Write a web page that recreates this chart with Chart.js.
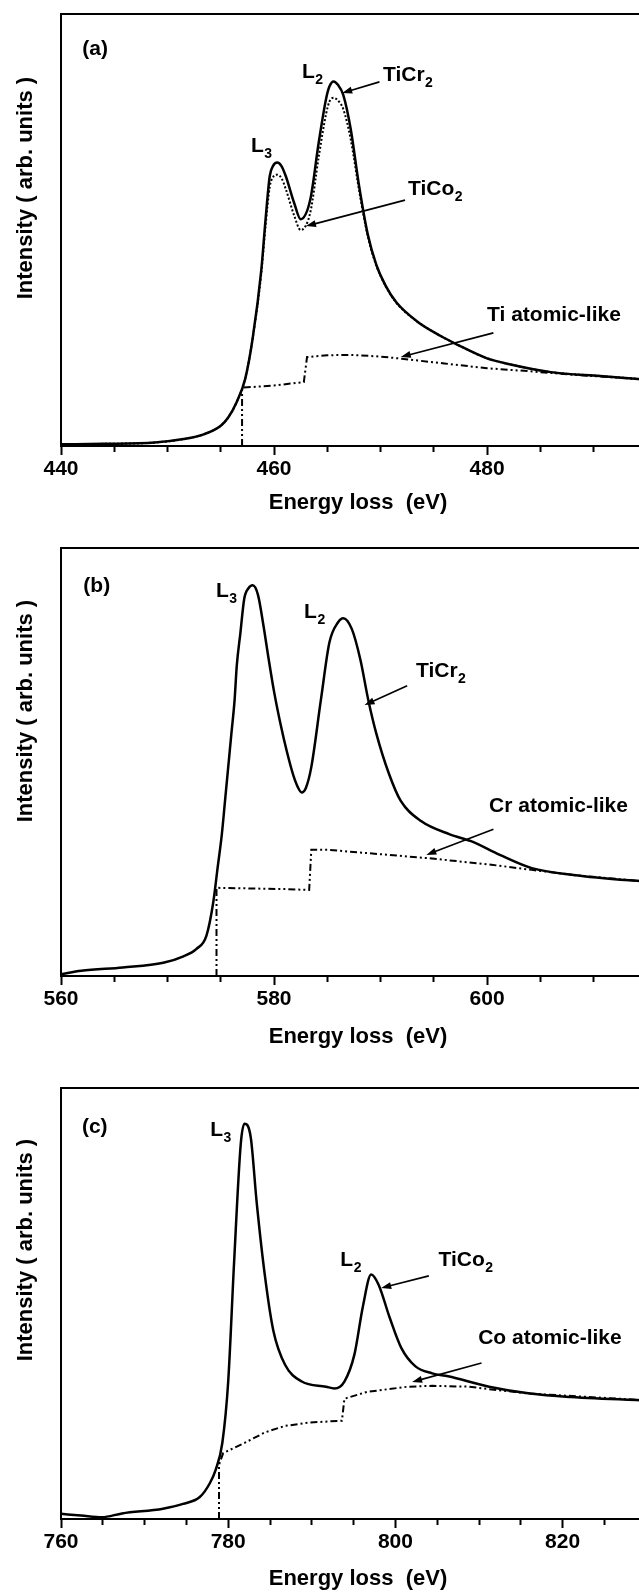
<!DOCTYPE html>
<html><head><meta charset="utf-8">
<script src="https://cdn.jsdelivr.net/npm/chart.js@4.4.1/dist/chart.umd.min.js"></script>
<style>
html,body{margin:0;padding:0;background:#fff;width:639px;height:1592px;overflow:hidden;position:relative;}
canvas{position:absolute;left:0;}
</style></head><body>
<canvas id="ca" width="655" height="530" style="top:0px"></canvas>
<canvas id="cb" width="655" height="530" style="top:530px"></canvas>
<canvas id="cc" width="655" height="532" style="top:1060px"></canvas>
<script>
// ---------- Panel (a): Ti L2,3 edge ----------
const aEnergy = [440, 444, 448.8, 451.5, 453.4, 455.0, 455.7, 456.5, 457.3, 458.0, 458.8, 459.2, 459.6, 459.9, 460.3, 460.7, 461.1, 461.9, 462.5, 463.4, 464.2, 464.9, 465.2, 465.6, 466.0, 466.5, 467.2, 468.0, 468.8, 469.6, 470.5, 471.5, 473.4, 475.7, 477.1, 480, 482, 486, 490.6, 496];
const aTiCr2 = [0.4, 0.5, 0.8, 1.6, 2.7, 4.7, 6.6, 10.2, 15.6, 25.0, 40.6, 52.3, 62.5, 64.8, 65.6, 64.8, 62.5, 56.2, 52.5, 57.0, 70.3, 80.5, 83.2, 84.4, 83.6, 81.3, 73.4, 60.0, 49.0, 42.0, 37.0, 33.2, 28.9, 25.4, 23.6, 20.3, 19.0, 17.1, 16.2, 15.2];
const aTiCo2 = [0.4, 0.5, 0.8, 1.6, 2.7, 4.7, 6.6, 10.2, 15.6, 25.0, 39.8, 50.8, 60.0, 62.2, 62.8, 62.0, 59.5, 53.3, 50.0, 54.0, 67.0, 77.0, 79.7, 80.6, 80.0, 78.0, 71.0, 59.0, 48.6, 41.8, 36.9, 33.1, 28.9, 25.4, 23.6, 20.3, 19.0, 17.1, 16.2, 15.2];
const aAtomE = [457.0, 457.0, 460.0, 462.8, 463.1, 465.0, 467.2, 470.0, 472.0, 476.0, 480.0, 484.0, 488.0, 496];
const aAtomI = [0, 13.5, 14.0, 14.8, 20.6, 21.0, 21.1, 20.7, 20.2, 19.1, 18.0, 17.3, 16.5, 15.2];

// ---------- Panel (b): Cr L2,3 edge ----------
const bEnergy = [560, 561.9, 565.8, 569.6, 571.5, 572.7, 573.65, 574.3, 574.7, 575.1, 575.4, 575.7, 576.0, 576.3, 576.5, 576.85, 577.2, 577.6, 578.0, 578.5, 579.0, 579.5, 580.0, 580.6, 581.2, 581.8, 582.3, 582.6, 583.0, 583.5, 584.4, 585.2, 586.0, 586.5, 587.3, 588.1, 588.85, 589.6, 590.8, 591.9, 593.8, 596.5, 598.5, 601.2, 604.2, 608.1, 616];
const bTiCr2 = [0.4, 1.2, 2.0, 3.1, 4.6, 6.3, 9.4, 17.3, 25.2, 33.1, 40.9, 48.8, 56.7, 64.5, 72.4, 80.3, 88.1, 90.6, 91.3, 89.0, 82.0, 74.0, 66.5, 59.0, 52.5, 47.0, 43.8, 42.9, 44.0, 48.8, 64.5, 77.9, 82.6, 83.6, 81.1, 74.0, 64.5, 56.7, 47.2, 40.9, 36.2, 33.1, 31.5, 28.3, 25.2, 23.6, 21.8];
const bAtomE = [574.6, 574.6, 581.2, 583.3, 583.5, 585.0, 588.8, 594.6, 600.4, 604.2, 608.1, 616];
const bAtomI = [0, 20.6, 20.3, 20.1, 29.5, 29.5, 28.7, 27.5, 26.0, 24.8, 23.6, 21.8];

// ---------- Panel (c): Co L2,3 edge ----------
const cEnergy = [760.0, 762.4, 764.9, 767.3, 772.2, 774.6, 776.6, 777.8, 778.5, 779.3, 780.0, 780.7, 781.5, 781.95, 782.7, 783.4, 784.4, 785.4, 786.8, 788.8, 791.7, 792.7, 793.9, 795.1, 796.1, 797.1, 798.0, 799.3, 800.7, 802.4, 804.4, 806.3, 811.2, 816.1, 821.0, 831.2];
const cTiCo2 = [1.2, 0.8, 0.4, 1.3, 2.4, 3.5, 5.1, 8.3, 11.4, 17.7, 31.9, 59.4, 87.0, 91.7, 88.5, 73.6, 56.3, 43.7, 35.8, 31.9, 30.7, 30.3, 31.9, 38.2, 49.2, 56.7, 54.3, 46.8, 39.7, 35.4, 33.8, 33.1, 30.7, 29.1, 28.3, 27.4];
const cAtomE = [778.9, 778.9, 779.4, 782.0, 784.4, 786.8, 789.8, 793.6, 793.9, 796.6, 801.5, 804.4, 808.8, 812.2, 816.1, 831.2];
const cAtomI = [0, 12.6, 15.3, 17.7, 20.1, 21.6, 22.4, 22.8, 27.9, 29.5, 30.7, 30.9, 30.7, 29.9, 29.1, 27.4];

// axis ranges and tick labels
const aRange = [440, 495.77];
const bRange = [560, 615.77];
const cRange = [760, 831.05];
const majorStep = 20;
const minorStep = 5;
const xTitle = 'Energy loss  (eV)';
const yTitle = 'Intensity ( arb. units )';

const FONT = '"Liberation Sans", Arial, Helvetica, sans-serif';
function pts(xs, ys) { return xs.map((x, i) => ({x: x, y: ys[i]})); }

function makeAnnot(cfg) {
  return {
    id: 'annot',
    afterDatasetsDraw(chart) {
      const ctx = chart.ctx, ca = chart.chartArea, sx = chart.scales.x, sy = chart.scales.y;
      ctx.save();
      ctx.fillStyle = '#000'; ctx.strokeStyle = '#000';
      // y-axis title
      ctx.save();
      ctx.translate(ca.left - 35, sy.getPixelForValue(cfg.yTitleAt));
      ctx.rotate(-Math.PI / 2);
      ctx.font = 'bold 22px ' + FONT;
      ctx.textAlign = 'center'; ctx.textBaseline = 'middle';
      ctx.fillText(yTitle, 0, 0);
      ctx.restore();
      // labels
      ctx.textAlign = 'left'; ctx.textBaseline = 'alphabetic';
      cfg.texts.forEach(t => {
        const px = sx.getPixelForValue(t.x), py = sy.getPixelForValue(t.y);
        ctx.font = 'bold 21px ' + FONT;
        ctx.fillText(t.t, px, py);
        if (t.s) {
          const w = ctx.measureText(t.t).width;
          ctx.font = 'bold 14px ' + FONT;
          ctx.fillText(t.s, px + w + 0.5, py + 6);
        }
      });
      // arrows
      cfg.arrows.forEach(a => {
        const x1 = sx.getPixelForValue(a.x1), y1 = sy.getPixelForValue(a.y1);
        const x2 = sx.getPixelForValue(a.x2), y2 = sy.getPixelForValue(a.y2);
        const ang = Math.atan2(y2 - y1, x2 - x1);
        const L = 10, W = 3.5;
        ctx.lineWidth = 1.7;
        ctx.beginPath();
        ctx.moveTo(x1, y1);
        ctx.lineTo(x2 - Math.cos(ang) * (L - 2), y2 - Math.sin(ang) * (L - 2));
        ctx.stroke();
        ctx.beginPath();
        ctx.moveTo(x2, y2);
        ctx.lineTo(x2 - L * Math.cos(ang) + W * Math.sin(ang), y2 - L * Math.sin(ang) - W * Math.cos(ang));
        ctx.lineTo(x2 - L * Math.cos(ang) - W * Math.sin(ang), y2 - L * Math.sin(ang) + W * Math.cos(ang));
        ctx.closePath();
        ctx.fill();
      });
      ctx.restore();
    }
  };
}

function makeChart(id, range, datasets, p, annot) {
  return new Chart(document.getElementById(id), {
    type: 'line',
    data: { datasets: datasets },
    options: {
      responsive: false, animation: false, devicePixelRatio: 1,
      layout: { padding: { left: 0, right: 0, top: p.top, bottom: 0 } },
      plugins: { legend: { display: false }, tooltip: { enabled: false } },
      elements: { point: { radius: 0 } },
      scales: {
        x: {
          type: 'linear', position: 'bottom', min: range[0], max: range[1],
          ticks: {
            stepSize: minorStep, maxTicksLimit: 20, includeBounds: false, autoSkip: false, maxRotation: 0,
            padding: 2, color: '#000', font: { family: FONT, size: 21, weight: 'bold' },
            callback: v => (Math.abs(v % majorStep) < 1e-6 ? String(v) : '')
          },
          grid: {
            drawOnChartArea: false, drawTicks: true, tickLength: 9, tickWidth: 2, tickColor: '#000',
            tickBorderDash: c => (c.tick && Math.abs(c.tick.value % majorStep) < 1e-6) ? [] : [5, 30]
          },
          border: { display: true, color: '#000', width: 2 },
          title: { display: true, text: xTitle, color: '#000', font: { family: FONT, size: 22, weight: 'bold' }, padding: { top: 0, bottom: p.tb } },
          afterFit: s => { s.height = p.xh; }
        },
        xt: {
          type: 'linear', position: 'top', min: range[0], max: range[1],
          ticks: { display: false }, grid: { display: false, drawTicks: false },
          border: { display: true, color: '#000', width: 2 },
          afterFit: s => { s.height = 0; }
        },
        y: {
          type: 'linear', min: 0, max: 100,
          ticks: { display: false }, grid: { display: false, drawTicks: false },
          border: { display: true, color: '#000', width: 2 },
          afterFit: s => { s.width = 61; }
        }
      }
    },
    plugins: [makeAnnot(annot)]
  });
}

const dashDotDot = [7, 3, 2, 3, 2, 3];

makeChart('ca', aRange, [
  { label: 'Ti atomic-like', data: pts(aAtomE, aAtomI), borderColor: '#000', borderWidth: 2, borderDash: dashDotDot, tension: 0 },
  { label: 'TiCo2', data: pts(aEnergy, aTiCo2), borderColor: '#000', borderWidth: 2, borderDash: [2, 2], cubicInterpolationMode: 'monotone' },
  { label: 'TiCr2', data: pts(aEnergy, aTiCr2), borderColor: '#000', borderWidth: 2.5, cubicInterpolationMode: 'monotone' }
], { top: 14, xh: 84, tb: 13.8 }, {
  yTitleAt: 59.7,
  texts: [
    { t: '(a)', x: 442.0, y: 90.4 },
    { t: 'L', s: '3', x: 457.84, y: 68.1 },
    { t: 'L', s: '2', x: 462.63, y: 85.2 },
    { t: 'TiCr', s: '2', x: 470.23, y: 84.5 },
    { t: 'TiCo', s: '2', x: 472.58, y: 58.1 },
    { t: 'Ti atomic-like', x: 480.0, y: 28.9 }
  ],
  arrows: [
    { x1: 469.9, y1: 84.3, x2: 466.4, y2: 81.7 },
    { x1: 472.3, y1: 56.9, x2: 463.0, y2: 50.9 },
    { x1: 480.6, y1: 26.2, x2: 471.9, y2: 20.6 }
  ]
});

makeChart('cb', bRange, [
  { label: 'Cr atomic-like', data: pts(bAtomE, bAtomI), borderColor: '#000', borderWidth: 2, borderDash: dashDotDot, tension: 0 },
  { label: 'TiCr2', data: pts(bEnergy, bTiCr2), borderColor: '#000', borderWidth: 2.5, cubicInterpolationMode: 'monotone' }
], { top: 18, xh: 84, tb: 9.8 }, {
  yTitleAt: 61.9,
  texts: [
    { t: '(b)', x: 562.1, y: 89.7 },
    { t: 'L', s: '3', x: 574.55, y: 88.6 },
    { t: 'L', s: '2', x: 582.82, y: 83.6 },
    { t: 'TiCr', s: '2', x: 593.33, y: 69.9 },
    { t: 'Cr atomic-like', x: 600.19, y: 38.3 }
  ],
  arrows: [
    { x1: 592.5, y1: 67.8, x2: 588.5, y2: 63.3 },
    { x1: 600.6, y1: 34.3, x2: 594.3, y2: 28.3 }
  ]
});

makeChart('cc', cRange, [
  { label: 'Co atomic-like', data: pts(cAtomE, cAtomI), borderColor: '#000', borderWidth: 2, borderDash: dashDotDot, tension: 0 },
  { label: 'TiCo2', data: pts(cEnergy, cTiCo2), borderColor: '#000', borderWidth: 2.5, cubicInterpolationMode: 'monotone' }
], { top: 28, xh: 73, tb: 0 }, {
  yTitleAt: 62.4,
  texts: [
    { t: '(c)', x: 762.5, y: 89.6 },
    { t: 'L', s: '3', x: 777.84, y: 88.9 },
    { t: 'L', s: '2', x: 793.41, y: 58.7 },
    { t: 'TiCo', s: '2', x: 805.15, y: 58.7 },
    { t: 'Co atomic-like', x: 809.9, y: 40.6 }
  ],
  arrows: [
    { x1: 804.0, y1: 56.4, x2: 798.3, y2: 53.6 },
    { x1: 810.3, y1: 36.2, x2: 802.0, y2: 31.8 }
  ]
});
</script>
</body></html>
